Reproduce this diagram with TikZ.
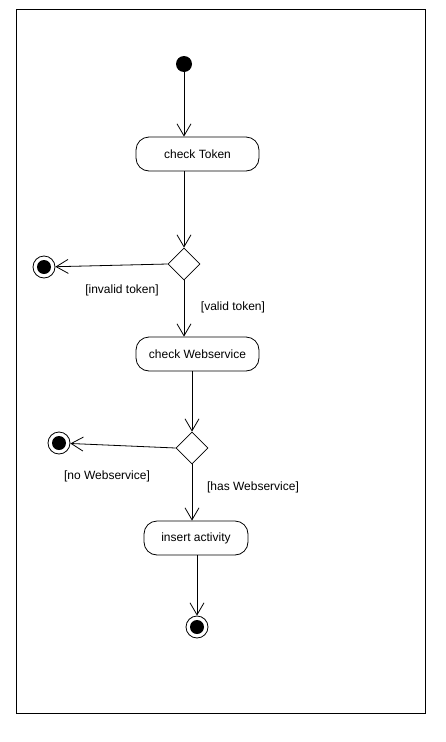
\documentclass[tikz,border=0pt]{standalone}
\usepackage{fontspec}
\setmainfont{Liberation Sans}
\usetikzlibrary{arrows.meta,shapes.geometric}

\tikzset{
  action/.style = {draw, rectangle, rounded corners=13pt, minimum width=123pt,
    minimum height=34pt, inner sep=0pt, font=\fontsize{12}{14}\selectfont},
  decision/.style = {draw, diamond, minimum width=32pt, minimum height=32pt, inner sep=0pt},
  initial/.style = {circle, fill, minimum size=16pt, inner sep=0pt},
  final/.style = {circle, draw, minimum size=22pt, inner sep=0pt,
    path picture={\fill (path picture bounding box.center) circle (7pt);}},
  guard/.style = {font=\fontsize{12}{14}\selectfont},
  flow/.style = {-{Straight Barb[length=12pt,width=14pt]}},
}

\begin{document}
\begin{tikzpicture}[x=1pt, y=-1pt, line width=0.8pt]
    \useasboundingbox (0,0) rectangle (446,742);
    \draw[line width=0.6pt] (16,9) rectangle (425,713);

    % nodes
    \node[initial]  (start) at (184,64)    {};
    \node[action]   (token) at (197.5,154) {check Token};
    \node[decision] (dec1)  at (184,264)   {};
    \node[final]    (end1)  at (44,267)    {};
    \node[action]   (ws)    at (197.5,354) {check Webservice};
    \node[decision] (dec2)  at (192,448)   {};
    \node[final]    (end2)  at (59,443)    {};
    \node[action, minimum width=104pt] (ins) at (196,538) {insert activity};
    \node[final]    (end3)  at (197,627)   {};

    % guards
    \node[guard] (g1) at (122,290) {[invalid token]};
    \node[guard] (g2) at (233,307) {[valid token]};
    \node[guard] (g3) at (107,476) {[no Webservice]};
    \node[guard] (g4) at (253,487) {[has Webservice]};

    % flows
    \draw[flow] (start) -- (start |- token.north);
    \draw[flow] (token.south -| dec1.north) -- (dec1.north);
    \draw[flow] (dec1.west) -- (end1);
    \draw[flow] (dec1.south) -- (dec1.south |- ws.north);
    \draw[flow] (ws.south -| dec2.north) -- (dec2.north);
    \draw[flow] (dec2.west) -- (end2);
    \draw[flow] (dec2.south) -- (dec2.south |- ins.north);
    \draw[flow] (ins.south -| end3.north) -- (end3.north);
\end{tikzpicture}
\end{document}
